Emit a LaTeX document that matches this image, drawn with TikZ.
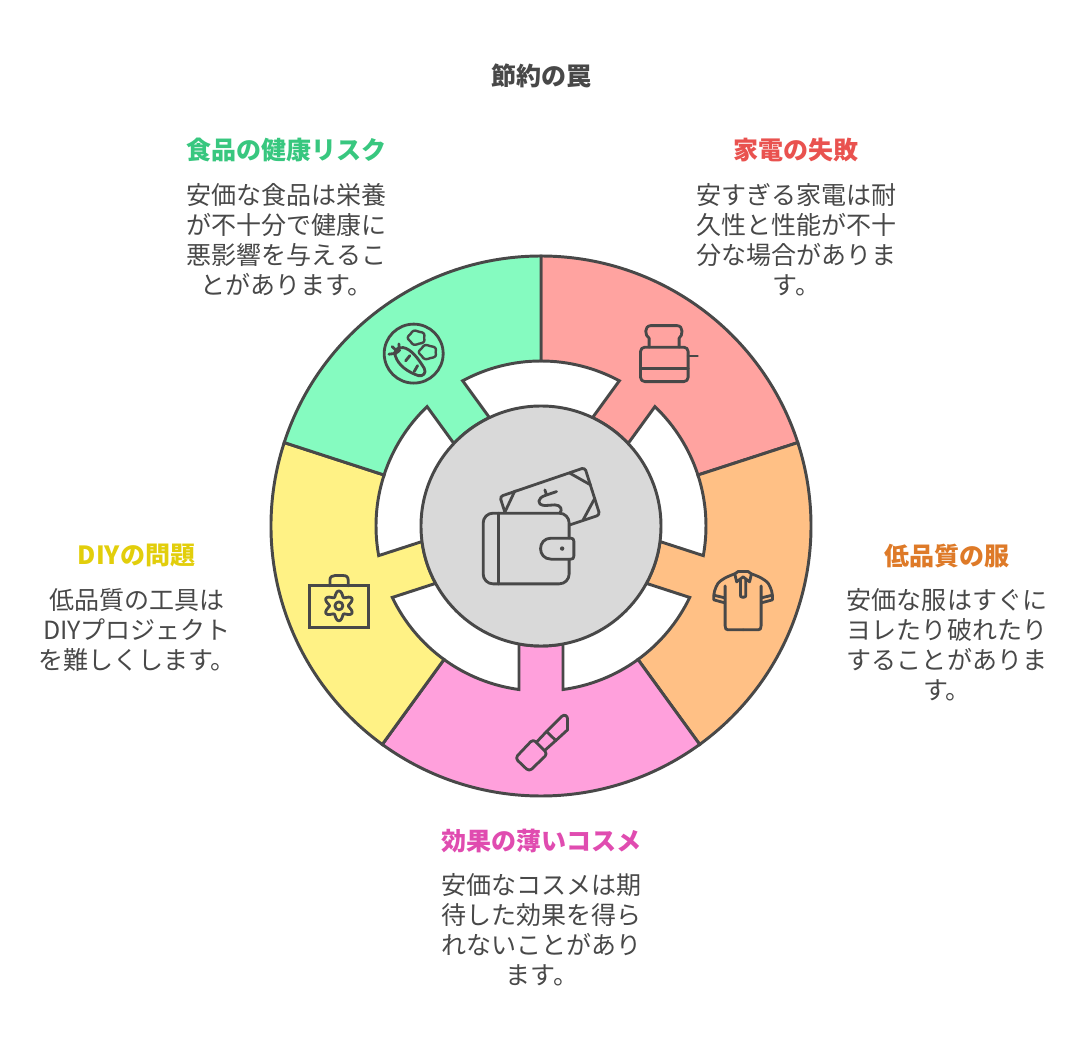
\documentclass[tikz,border=0pt]{standalone}
\usepackage{fontspec}
\setmainfont{Noto Sans CJK JP}
\usepackage{tikz}
\usetikzlibrary{calc}
\definecolor{linegray}{HTML}{484848}
\definecolor{wheelred}{HTML}{FFA3A0}
\definecolor{wheelorange}{HTML}{FFC085}
\definecolor{wheelpink}{HTML}{FFA0DC}
\definecolor{wheelyellow}{HTML}{FFF285}
\definecolor{wheelgreen}{HTML}{85FBC0}
\definecolor{hubgray}{HTML}{D9D9D9}
\definecolor{titlered}{HTML}{E9524F}
\definecolor{titleorange}{HTML}{DE7A28}
\definecolor{titlepink}{HTML}{E04CB0}
\definecolor{titleyellow}{HTML}{E2CE0B}
\definecolor{titlegreen}{HTML}{38C77F}
\tikzset{
    sectorbox/.style={
        draw=linegray,
        line width=2.1pt
    },
    hubbox/.style={
        circle,
        draw=linegray,
        fill=hubgray,
        line width=2.1pt,
        minimum size=6cm,
        inner sep=0pt
    },
    headtext/.style={
        font=\fontsize{17.8pt}{21.34pt}\selectfont\bfseries,
        align=center,
        inner sep=0pt
    },
    bodytext/.style={
        font=\fontsize{17.8pt}{21.34pt}\selectfont,
        text=linegray,
        align=center,
        inner sep=0pt
    },
    iconline/.style={
        draw=linegray,
        line width=2pt,
        line cap=round,
        line join=round
    },
    pixelgrid/.style={
        x=0.025cm,
        y=-0.025cm,
        shift={(-13.525cm,13.15cm)}
    }
}
\begin{document}
\begin{tikzpicture}
    \useasboundingbox (-13.525,-13.175) rectangle (13.55,13.15);

    % Wheel sectors
    \foreach \rot/\col in {-36/wheelred,-108/wheelorange,-180/wheelpink,-252/wheelyellow,36/wheelgreen}{
        \draw[sectorbox, fill=\col, rotate=\rot]
            (126:6.75) arc[start angle=126, end angle=54, radius=6.75]
            -- (54:4.125) arc[start angle=54, end angle=82.34, radius=4.125]
            -- (79.44:3) arc[start angle=79.44, end angle=100.56, radius=3]
            -- (97.66:4.125) arc[start angle=97.66, end angle=126, radius=4.125]
            -- cycle;
    }
    \node[hubbox] (hub) at (0,0) {};

    % Heading
    \node[headtext, text=linegray] (mainhead) at (0.02,11.25) {節約の罠};

    % Labels
    \node[headtext, text=titlegreen] (foodhead) at (-6.36,9.4) {食品の健康リスク};
    \node[bodytext] (foodbody) at (-6.36,7.15) {安価な食品は栄養\\が不十分で健康に\\悪影響を与えるこ\\とがあります。};

    \node[headtext, text=titlered] (homehead) at (6.38,9.4) {家電の失敗};
    \node[bodytext] (homebody) at (6.39,7.15) {安すぎる家電は耐\\久性と性能が不十\\分な場合がありま\\す。};

    \node[headtext, text=titleorange] (clothhead) at (10.14,-0.74) {低品質の服};
    \node[bodytext] (clothbody) at (10.15,-2.975) {安価な服はすぐに\\ヨレたり破れたり\\することがありま\\す。};

    \node[headtext, text=titlepink] (cosmehead) at (0.02,-7.875) {効果の薄いコスメ};
    \node[bodytext] (cosmebody) at (0.02,-10.1) {安価なコスメは期\\待した効果を得ら\\れないことがあり\\ます。};

    \node[headtext, text=titleyellow] (toolhead) at (-10.11,-0.74) {DIYの問題};
    \node[bodytext] (toolbody) at (-10.1,-2.6) {低品質の工具は\\DIYプロジェクト\\を難しくします。};

    % Icons, in picture pixels
    \begin{scope}[pixelgrid]
        % wallet
        \draw[iconline, rounded corners=7pt] (569.3,538.3) -- (569.3,513.3) -- (483.3,513.3)
            -- (483.3,584) -- (569.3,584) -- (569.3,559.3);
        \draw[iconline] (499,513.3) -- (499,584);
        \draw[iconline] (574,541.3) -- (574,556.3) .. controls (574,558.3) and (573,559.3) .. (571,559.3) -- (551.2,559.3)
            .. controls (537.2,559.3) and (537.2,538.3) .. (551.2,538.3) -- (571,538.3) .. controls (573,538.3) and (574,539.3) .. (574,541.3);
        \fill[linegray] (562.3,548.7) circle[radius=2.2];
        % bill
        \draw[iconline, rounded corners=2.2pt] (505,512.3) -- (500,496.7) -- (585,467.7) -- (600,515) -- (570,525);
        \draw[iconline] (515,491) -- (505,512.3);
        \draw[iconline] (570,473.3) -- (590.7,485);
        \draw[iconline] (595,498.3) -- (583.3,520);
        \draw[iconline] (556.7,491.7) -- (545,495.7) .. controls (538,498) and (536,505) .. (545,505.7)
            -- (555,505) .. controls (561,505) and (563,510) .. (560,513.3);
        \draw[iconline] (545,490) -- (546.7,495);

        % toaster
        \draw[iconline, rounded corners=3pt] (640.7,347.3) rectangle (688.3,381.7);
        \draw[iconline] (640.7,368.3) -- (688.3,368.3);
        \draw[iconline] (688.3,356) -- (697.7,356);
        \draw[iconline] (649.3,347.3) -- (649.3,338.3) .. controls (645,336) and (644,326) .. (651,325.7)
            -- (677.3,325.7) .. controls (684,326) and (683,336) .. (679.3,338.3) -- (679.3,347.3);

        % carrot and plate
        \draw[iconline] (413.8,353.7) circle[radius=29.5];
        \draw[iconline] (395.7,356.7) .. controls (393,350) and (398,347) .. (403.3,347.7)
            .. controls (411,349) and (418,358) .. (424.3,368.3)
            .. controls (427,373) and (423,377) .. (418.3,375.7)
            .. controls (408,372) and (399,366) .. (395.7,356.7);
        \draw[iconline] (399,344) -- (399.5,351);
        \draw[iconline] (392.3,346.7) -- (398.3,352.3);
        \draw[iconline] (389,354.3) -- (396.7,353.3);
        \draw[iconline] (405.7,361) -- (410,355.7);
        \draw[iconline] (414.3,371.7) -- (417.7,365.7);
        \draw[iconline, line width=1.7pt] plot[smooth cycle, domain=0:350, samples=36] ({416.7+(8.2-0.6*cos(5*\x))*cos(\x)},{337.8+(6.8-0.5*cos(5*\x))*sin(\x)});
        \draw[iconline, line width=1.7pt] plot[smooth cycle, domain=0:350, samples=36] ({428+(8.4-0.6*cos(5*\x))*cos(\x)},{352.2+(6.8-0.5*cos(5*\x))*sin(\x)});

        % shirt
        \foreach \s in {-1,1}{
            \begin{scope}[xshift=743.3*0.025cm, xscale=\s]
                \draw[iconline] (8.3,574) .. controls (17,577) and (22,580) .. (25,583.3)
                    .. controls (28,588) and (30,594) .. (29.3,600) -- (18.3,603);
                \draw[iconline] (28.6,595.5) -- (18.3,598);
                \draw[iconline] (18,586) -- (18,626) .. controls (18,629) and (17,630) .. (15,630) -- (0,630);
                \draw[iconline] (5,571.7) -- (0,571.7);
                \draw[iconline] (5,571.7) -- (8.3,574) -- (6.5,582) -- (0,577);
                \draw[iconline] (0,597.3) -- (1,597.3) .. controls (2.2,597.3) and (2.7,596.5) .. (2.7,595.3) -- (2.7,580);
            \end{scope}
        }

        % tool bag
        \draw[iconline, line join=miter] (309.3,586) rectangle (368.3,627.3);
        \draw[iconline] (330,586) -- (330,580.5) .. controls (330,577) and (332,575.7) .. (335,575.7)
            -- (343.3,575.7) .. controls (346.5,575.7) and (348.3,577) .. (348.3,580.5) -- (348.3,586);
        \draw[iconline] plot[smooth cycle, domain=0:354, samples=60] ({339+(12.2-2.8*cos(6*\x))*cos(\x)},{606+(12.2-2.8*cos(6*\x))*sin(\x)});
        \draw[iconline] (339,606) circle[radius=4];

        % lipstick
        \draw[iconline, rounded corners=2.5pt] (533.3,739.3) -- (547.7,754) -- (529.3,771.7) -- (515.3,758.3) -- cycle;
        \draw[iconline] (536.5,742.5) -- (546.7,731.7) -- (556,740.7) -- (545,750.5);
        \draw[iconline] (546.7,731.7) -- (561.7,716.7) .. controls (564.5,714) and (567.7,716) .. (567.7,719) -- (567.7,730) -- (556,740.7);
    \end{scope}
\end{tikzpicture}
\end{document}
